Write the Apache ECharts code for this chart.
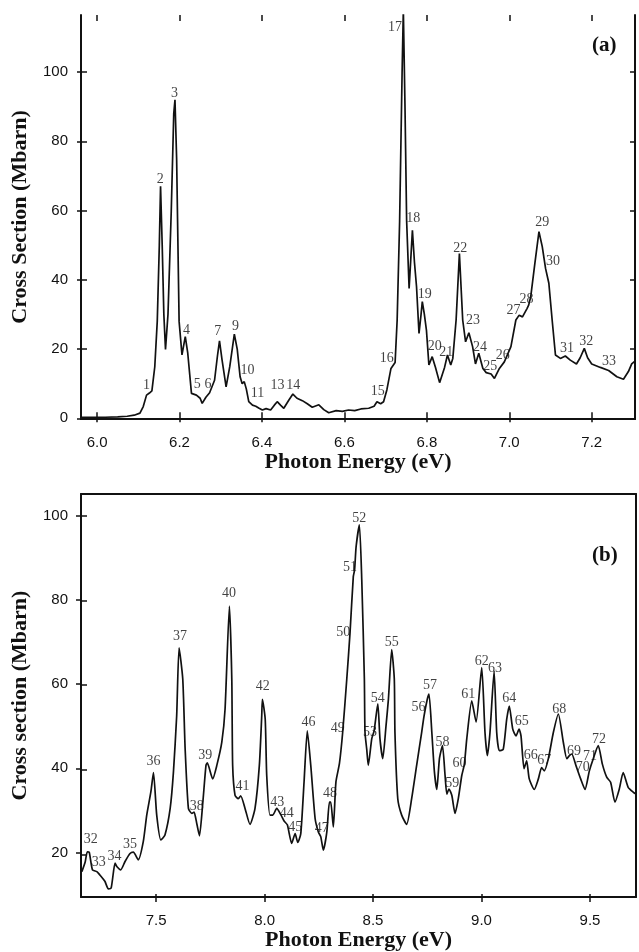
<!DOCTYPE html>
<html>
<head>
<meta charset="utf-8">
<title>cross section spectrum</title>
<script src="https://cdn.jsdelivr.net/npm/echarts@6/dist/echarts.min.js"></script>
<style>
  html, body { margin: 0; padding: 0; background: #fff; }
  #chart { width: 639px; height: 952px; }
</style>
</head>
<body>
<div id="chart"></div>
<script>
// panel (a): 6.0 - 7.3 eV
var energyA = [5.961, 5.99, 6.02, 6.05, 6.073, 6.09, 6.104, 6.112, 6.12, 6.127, 6.133, 6.14, 6.146, 6.151, 6.154, 6.158, 6.162, 6.166, 6.172, 6.18, 6.186, 6.189, 6.193, 6.199, 6.206, 6.21, 6.214, 6.22, 6.229, 6.241, 6.25, 6.255, 6.264, 6.273, 6.285, 6.292, 6.297, 6.303, 6.313, 6.322, 6.333, 6.34, 6.347, 6.352, 6.357, 6.362, 6.368, 6.377, 6.385, 6.392, 6.401, 6.41, 6.421, 6.43, 6.437, 6.445, 6.453, 6.465, 6.475, 6.485, 6.498, 6.51, 6.522, 6.538, 6.55, 6.562, 6.58, 6.595, 6.61, 6.625, 6.64, 6.659, 6.672, 6.679, 6.688, 6.695, 6.703, 6.713, 6.723, 6.728, 6.734, 6.74, 6.743, 6.747, 6.751, 6.757, 6.762, 6.765, 6.77, 6.775, 6.781, 6.786, 6.789, 6.794, 6.799, 6.805, 6.813, 6.821, 6.831, 6.843, 6.85, 6.858, 6.863, 6.871, 6.879, 6.887, 6.894, 6.902, 6.911, 6.918, 6.926, 6.936, 6.944, 6.956, 6.964, 6.976, 6.988, 7.004, 7.016, 7.024, 7.032, 7.043, 7.047, 7.052, 7.062, 7.072, 7.08, 7.088, 7.096, 7.104, 7.112, 7.124, 7.136, 7.148, 7.163, 7.172, 7.182, 7.19, 7.2, 7.221, 7.241, 7.261, 7.277, 7.289, 7.297, 7.305];
var crossA = [0.3, 0.3, 0.3, 0.4, 0.6, 0.9, 1.5, 3.4, 6.7, 7.3, 7.9, 14.9, 28, 50, 67, 50, 30, 19.9, 30, 60, 88, 92, 75, 28, 18.3, 21, 23.6, 18.8, 7.2, 6.7, 5.8, 4.3, 6.1, 7.4, 11, 18, 22.4, 17, 9.1, 15, 24.3, 20, 12, 10, 10.6, 8.5, 4.8, 3.8, 3.5, 3.0, 2.4, 2.8, 2.4, 3.8, 4.8, 3.8, 2.9, 5.2, 7, 5.8, 5.1, 4.2, 3.2, 3.9, 2.5, 1.6, 2.2, 2.0, 2.4, 2.2, 2.7, 2.9, 3.5, 4.8, 4.2, 4.8, 8.2, 14.4, 16.1, 28.4, 57, 100, 118, 90, 57, 37.5, 48, 54.3, 45, 38, 24.5, 30, 33.7, 30, 25.5, 15.4, 17.8, 14.7, 10.3, 14.7, 18.3, 15.4, 17.3, 28.4, 47.6, 28.4, 22.1, 24.7, 20.7, 15.7, 18.8, 14.4, 13.2, 12.8, 11.5, 14.4, 16.3, 20.7, 28.4, 29.8, 29.3, 31.7, 32.7, 35.1, 44.7, 53.9, 49.6, 43.3, 39, 28.4, 18.3, 17.3, 18, 16.8, 15.7, 17.5, 20.2, 17.5, 15.7, 14.7, 13.8, 12, 11.3, 13.5, 15.7, 16.5];
var peakNamesA = ['1', '2', '3', '4', '5', '6', '7', '9', '10', '11', '13', '14', '15', '16', '17', '18', '19', '20', '21', '22', '23', '24', '25', '26', '27', '28', '29', '30', '31', '32', '33'];
var peakEnergyA = [6.12, 6.153, 6.188, 6.217, 6.243, 6.269, 6.293, 6.336, 6.365, 6.389, 6.438, 6.476, 6.681, 6.703, 6.723, 6.767, 6.795, 6.819, 6.847, 6.881, 6.912, 6.929, 6.954, 6.984, 7.01, 7.042, 7.08, 7.106, 7.14, 7.187, 7.242];
var peakCrossA = [9.6, 69, 93.8, 25.5, 9.8, 9.8, 25, 26.6, 13.9, 7.2, 9.4, 9.4, 7.7, 17.3, 113, 57.7, 35.9, 20.7, 19.2, 49, 28.4, 20.5, 14.9, 18.3, 31.3, 34.4, 56.7, 45.4, 20.2, 22.1, 16.5];
var ticksXA = [6.0, 6.2, 6.4, 6.6, 6.8, 7.0, 7.2];
var ticksYA = [0, 20, 40, 60, 80, 100];

// panel (b): 7.2 - 9.7 eV
var energyB = [7.158, 7.173, 7.183, 7.192, 7.207, 7.227, 7.241, 7.264, 7.28, 7.293, 7.311, 7.319, 7.337, 7.357, 7.38, 7.395, 7.418, 7.441, 7.457, 7.476, 7.488, 7.503, 7.522, 7.541, 7.565, 7.58, 7.595, 7.606, 7.623, 7.634, 7.649, 7.665, 7.675, 7.688, 7.7, 7.715, 7.73, 7.736, 7.761, 7.78, 7.803, 7.818, 7.838, 7.849, 7.853, 7.864, 7.879, 7.89, 7.91, 7.933, 7.956, 7.976, 7.987, 7.99, 8.003, 8.01, 8.025, 8.038, 8.056, 8.076, 8.09, 8.105, 8.125, 8.141, 8.153, 8.167, 8.182, 8.197, 8.213, 8.233, 8.248, 8.259, 8.271, 8.287, 8.299, 8.305, 8.317, 8.329, 8.345, 8.36, 8.379, 8.394, 8.409, 8.415, 8.422, 8.437, 8.448, 8.46, 8.463, 8.471, 8.478, 8.494, 8.505, 8.522, 8.532, 8.545, 8.56, 8.571, 8.586, 8.598, 8.601, 8.614, 8.632, 8.655, 8.678, 8.701, 8.724, 8.735, 8.75, 8.758, 8.771, 8.783, 8.794, 8.806, 8.82, 8.832, 8.84, 8.85, 8.863, 8.878, 8.893, 8.909, 8.921, 8.932, 8.955, 8.975, 9.001, 9.016, 9.027, 9.039, 9.058, 9.07, 9.082, 9.1, 9.116, 9.128, 9.144, 9.159, 9.173, 9.182, 9.196, 9.208, 9.22, 9.243, 9.262, 9.277, 9.289, 9.308, 9.331, 9.354, 9.377, 9.393, 9.405, 9.416, 9.435, 9.457, 9.477, 9.497, 9.515, 9.538, 9.557, 9.577, 9.595, 9.615, 9.635, 9.653, 9.676, 9.7, 9.712];
var crossB = [15.5, 17.7, 20.2, 20.1, 15.9, 15.5, 14.7, 13.2, 11.4, 11.6, 17.5, 16.7, 15.9, 17.9, 19.8, 20.1, 18.3, 22.6, 28.9, 34.4, 39, 28.9, 23, 24.2, 30.5, 39.1, 52.5, 68.6, 61.2, 44.6, 30.5, 29.3, 29.6, 26.8, 24, 31.6, 40.7, 41.3, 37.5, 40.7, 46.2, 54.1, 78.5, 61.2, 40.7, 33.6, 32.8, 33.5, 30.5, 26.7, 30.5, 40.7, 52.5, 56.4, 51.7, 38.3, 28.9, 28.9, 30.5, 28.9, 27.5, 26.6, 22.2, 24.5, 22.4, 24.5, 36.7, 48.9, 40.7, 28.1, 24.9, 23.8, 20.6, 24.9, 32, 32, 26.1, 36.8, 41.1, 48.5, 61.2, 72.2, 85.5, 87.1, 92.6, 97.8, 84.8, 61.2, 48.5, 44.5, 40.7, 47, 48.9, 55.3, 47, 42.3, 50.2, 56.5, 68.2, 61.2, 48.5, 32.8, 28.9, 26.7, 32.8, 40.7, 48.5, 52.4, 56.4, 57.6, 48.5, 39.1, 35, 42.3, 45.4, 38.3, 33.9, 35.1, 33.6, 29.3, 32.8, 38.3, 41, 47, 56, 51, 63.9, 48.5, 43, 48.5, 63.1, 48.5, 44.2, 44.5, 51.6, 54.8, 49.3, 47.7, 49.3, 47.7, 39.9, 41.8, 37.5, 35, 37.5, 40.2, 39.4, 42.3, 48.5, 52.9, 46.2, 42.3, 43, 43.4, 40.7, 37.5, 35, 39.4, 42.3, 45.4, 41, 37.9, 36.7, 32, 35.1, 39, 35.5, 34.3, 33.9];
var peakNamesB = ['32', '33', '34', '35', '36', '37', '38', '39', '40', '41', '42', '43', '44', '45', '46', '47', '48', '49', '50', '51', '52', '53', '54', '55', '56', '57', '58', '59', '60', '61', '62', '63', '64', '65', '66', '67', '68', '69', '70', '71', '72'];
var peakEnergyB = [7.199, 7.236, 7.308, 7.38, 7.488, 7.61, 7.688, 7.727, 7.836, 7.898, 7.992, 8.059, 8.102, 8.141, 8.202, 8.264, 8.302, 8.337, 8.363, 8.394, 8.437, 8.486, 8.522, 8.586, 8.709, 8.763, 8.82, 8.865, 8.898, 8.939, 9.001, 9.062, 9.128, 9.185, 9.227, 9.289, 9.358, 9.426, 9.466, 9.5, 9.541];
var peakCrossB = [23.2, 17.6, 19.2, 22, 41.6, 71.4, 31.1, 43.2, 81.6, 35.8, 59.4, 31.9, 29.3, 26.1, 50.9, 25.7, 34, 49.5, 72.2, 87.8, 99.3, 48.6, 56.6, 69.8, 54.5, 59.7, 46.2, 36.4, 41.1, 57.6, 65.5, 63.7, 56.6, 51.1, 43.2, 42, 54.1, 44, 40.3, 42.9, 46.8];
var ticksXB = [7.5, 8.0, 8.5, 9.0, 9.5];
var ticksYB = [20, 40, 60, 80, 100];

function zip(xs, ys) {
    var out = [];
    for (var i = 0; i < xs.length; i++) out.push([xs[i], ys[i]]);
    return out;
}
function labelPoints(names, xs, ys) {
    var out = [];
    for (var i = 0; i < names.length; i++) out.push({ name: names[i], value: [xs[i], ys[i]] });
    return out;
}

var black = '#111';
var sans = 'Liberation Sans';
var serif = 'Liberation Serif';
var lineAxis = { show: true, lineStyle: { color: black, width: 2 } };
var noLine = { show: false };

function xAx(grid, pos, min, max, ticks, tickInside, tickLen, opts) {
    var a = {
        type: 'value', gridIndex: grid, position: pos, min: min, max: max,
        axisLine: opts.line === false ? noLine : lineAxis,
        axisTick: { show: !!ticks, inside: tickInside, length: tickLen, customValues: ticks || [], lineStyle: { color: black, width: 1.5 } },
        axisLabel: { show: false },
        splitLine: { show: false }
    };
    if (opts.labels) {
        a.axisLabel = { show: true, customValues: ticks, margin: 16, color: black, fontFamily: sans, fontSize: 15,
            formatter: function (v) { return v.toFixed(1); } };
        a.name = 'Photon Energy (eV)';
        a.nameLocation = 'middle';
        a.nameGap = opts.nameGap;
        a.nameTextStyle = { color: black, fontFamily: serif, fontWeight: 'bold', fontSize: 22 };
    }
    return a;
}
function yAx(grid, pos, min, max, ticks, tickInside, tickLen, opts) {
    var a = {
        type: 'value', gridIndex: grid, position: pos, min: min, max: max,
        axisLine: opts.line === false ? noLine : lineAxis,
        axisTick: { show: !!ticks, inside: tickInside, length: tickLen, customValues: ticks || [], lineStyle: { color: black, width: 1.5 } },
        axisLabel: { show: false },
        splitLine: { show: false }
    };
    if (opts.labels) {
        a.axisLabel = { show: true, customValues: ticks, margin: 13, color: black, fontFamily: sans, fontSize: 15 };
        a.name = opts.name;
        a.nameLocation = 'middle';
        a.nameGap = 50;
        a.nameTextStyle = { color: black, fontFamily: serif, fontWeight: 'bold', fontSize: 22 };
    }
    return a;
}

var peakLabel = {
    show: true, position: 'inside', formatter: '{b}', color: black,
    fontFamily: serif, fontSize: 14, textBorderWidth: 0, textBorderColor: 'transparent'
};

var aMin = 5.961, aMax = 7.305, aYMin = -0.2, aYMax = 116.5;
var bMin = 7.154, bMax = 9.712, bYMin = 9.45, bYMax = 105.1;

var option = {
    animation: false,
    backgroundColor: '#fff',
    grid: [
        { left: 81, top: 15, width: 554, height: 404 },
        { left: 81, top: 15, width: 554, height: 404 },
        { left: 81, top: 494, width: 555, height: 405 },
        { left: 81, top: 494, width: 555, height: 405 }
    ],
    xAxis: [
        xAx(0, 'bottom', aMin, aMax, ticksXA, false, 4, { labels: true, nameGap: 32 }),
        xAx(0, 'top', aMin, aMax, ticksXA, false, 5, {}),
        xAx(1, 'bottom', aMin, aMax, ticksXA, true, 6, { line: false }),
        xAx(1, 'top', aMin, aMax, ticksXA, true, 6, { line: false }),
        xAx(2, 'bottom', bMin, bMax, ticksXB, false, 5, { labels: true, nameGap: 28 }),
        xAx(2, 'top', bMin, bMax, null, false, 0, {}),
        xAx(3, 'bottom', bMin, bMax, ticksXB, true, 5, { line: false })
    ],
    yAxis: [
        yAx(0, 'left', aYMin, aYMax, ticksYA, false, 4, { labels: true, name: 'Cross Section (Mbarn)' }),
        yAx(0, 'right', aYMin, aYMax, ticksYA, true, 5, {}),
        yAx(1, 'left', aYMin, aYMax, ticksYA, true, 6, { line: false }),
        yAx(2, 'left', bYMin, bYMax, ticksYB, false, 5, { labels: true, name: 'Cross section (Mbarn)' }),
        yAx(2, 'right', bYMin, bYMax, null, false, 0, {}),
        yAx(3, 'left', bYMin, bYMax, ticksYB, true, 6, { line: false })
    ],
    graphic: [
        { type: 'text', left: 592, top: 35, style: { text: '(a)', fill: black, font: 'bold 21px "Liberation Serif"' } },
        { type: 'text', left: 592, top: 545, style: { text: '(b)', fill: black, font: 'bold 21px "Liberation Serif"' } }
    ],
    series: [
        {
            type: 'line', xAxisIndex: 0, yAxisIndex: 0, data: zip(energyA, crossA),
            showSymbol: false, lineStyle: { color: black, width: 1.7 }, z: 5
        },
        {
            type: 'scatter', xAxisIndex: 0, yAxisIndex: 0, data: labelPoints(peakNamesA, peakEnergyA, peakCrossA),
            symbolSize: 0, z: 6, label: peakLabel
        },
        {
            type: 'line', xAxisIndex: 4, yAxisIndex: 3, data: zip(energyB, crossB),
            showSymbol: false, smooth: 0.2, lineStyle: { color: black, width: 1.7 }, z: 5
        },
        {
            type: 'scatter', xAxisIndex: 4, yAxisIndex: 3, data: labelPoints(peakNamesB, peakEnergyB, peakCrossB),
            symbolSize: 0, z: 6, label: peakLabel
        }
    ]
};

var chart = echarts.init(document.getElementById('chart'));
chart.setOption(option);
</script>
</body>
</html>
